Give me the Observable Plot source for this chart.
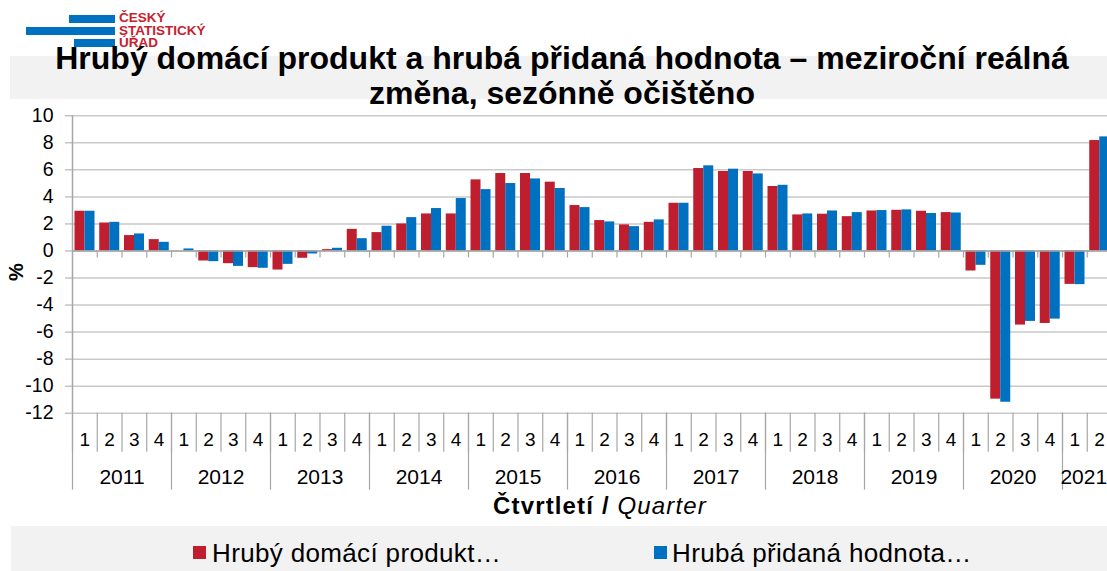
<!DOCTYPE html>
<html><head><meta charset="utf-8">
<script src="https://cdn.jsdelivr.net/npm/d3@7"></script>
<script src="https://cdn.jsdelivr.net/npm/@observablehq/plot@0.6"></script>
<style>
html,body{margin:0;padding:0;background:#fff;overflow:hidden;width:1107px;height:571px;font-family:"Liberation Sans",Arial,sans-serif}
#wrap{position:relative;width:1107px;height:571px}
.abs{position:absolute;white-space:nowrap}
.band{background:#f2f2f2}
.logo-bar{position:absolute;background:#0070c0}
.logo-t{position:absolute;color:#c8202e;font-weight:bold;font-size:13.5px;line-height:12px;left:119px}
.title{left:0;width:1124px;text-align:center;font-weight:bold;font-size:32px;line-height:35px;color:#000}
.leg{font-size:26px;line-height:24px;color:#000;letter-spacing:0.35px}
.sw{position:absolute;width:13px;height:13px}
</style></head><body><div id="wrap">
<div class="abs band" style="left:10px;top:56px;width:1097px;height:43px"></div>
<div class="abs band" style="left:11px;top:526px;width:1096px;height:45px"></div>
<div id="chart" class="abs" style="left:0;top:0"></div>
<div class="logo-bar" style="left:69px;top:15px;width:46px;height:8px"></div>
<div class="logo-bar" style="left:26px;top:27px;width:89px;height:8px"></div>
<div class="logo-bar" style="left:74px;top:39px;width:41px;height:8px"></div>
<div class="logo-t" style="top:12.3px">ČESKÝ</div>
<div class="logo-t" style="top:24.8px">STATISTICKÝ</div>
<div class="logo-t" style="top:36.8px">ÚŘAD</div>
<div class="abs title" style="top:41.4px">Hrubý domácí produkt a hrubá přidaná hodnota – meziroční reálná<br>změna, sezónně očištěno</div>
<div class="abs" style="left:6px;top:262px;width:20px;height:20px;font-weight:bold;font-size:20px;line-height:20px;text-align:center;transform:rotate(-90deg)">%</div>
<div class="abs" style="left:0;width:1200px;text-align:center;top:494px;font-size:24px;line-height:24px;letter-spacing:1.15px"><b>Čtvrtletí /</b> <i>Quarter</i></div>
<div id="legend"></div>
</div>
<script>
const years = ["2011","2012","2013","2014","2015","2016","2017","2018","2019","2020","2021"];
const quartersPerYear = [4,4,4,4,4,4,4,4,4,4,2];
const quarterLabels = ["1","2","3","4"];
const seriesNames = ["Hrubý domácí produkt…", "Hrubá přidaná hodnota…"];
const seriesColors = ["#be1e2d", "#0070c0"];
const gdp = [2.94, 2.07, 1.14, 0.84,
             0.0, -0.74, -0.94, -1.23,
             -1.41, -0.54, 0.1, 1.6,
             1.36, 2.0, 2.74, 2.74,
             5.26, 5.73, 5.73, 5.09,
             3.36, 2.25, 1.93, 2.12,
             3.53, 6.1, 5.88, 5.88,
             4.77, 2.67, 2.72, 2.54,
             2.96, 3.01, 2.94, 2.84,
             -1.48, -10.96, -5.48, -5.36,
             -2.47, 8.17];
const gva = [2.94, 2.12, 1.26, 0.64,
             0.15, -0.79, -1.14, -1.28,
             -0.99, -0.22, 0.2, 0.91,
             1.83, 2.47, 3.14, 3.88,
             4.54, 4.99, 5.33, 4.62,
             3.21, 2.15, 1.80, 2.30,
             3.53, 6.3, 6.05, 5.7,
             4.86, 2.74, 2.96, 2.84,
             2.99, 3.04, 2.77, 2.81,
             -1.06, -11.19, -5.21, -5.04,
             -2.49, 8.44];
const yTicks = d3.range(-12, 11, 2);

// build table
const rows = [];
const yearStarts = [];
let k = 0;
years.forEach((yr, yi) => {
  yearStarts.push({year: yr, start: k, n: quartersPerYear[yi]});
  for (let q = 0; q < quartersPerYear[yi]; q++) {
    rows.push({i: k, year: yr, quarter: quarterLabels[q], gdp: gdp[k], gva: gva[k]});
    k++;
  }
});
const n = rows.length;
const bounds = d3.range(n + 1);
const yearBounds = yearStarts.map(d => d.start);
const fullYears = yearStarts.filter(d => d.n === 4);
const partYears = yearStarts.filter(d => d.n !== 4);
const yearLabel = v => yearStarts.find(d => d.start + d.n / 2 === v).year;
const GRID = "#c9c9c9", AX = "#a6a6a6";

const chart = Plot.plot({
  width: 1107, height: 571,
  marginLeft: 72, marginRight: -4.5, marginTop: 115.3, marginBottom: 158.3,
  x: {domain: [0, n], axis: null},
  y: {domain: [-12, 10], axis: null},
  style: {background: "transparent", fontFamily: "'Liberation Sans', Arial, sans-serif", overflow: "visible", color: "#000"},
  marks: [
    Plot.ruleY(yTicks, {stroke: GRID, strokeWidth: 1.5}),
    Plot.rectY(rows, {x1: "i", x2: d => d.i + 1, y1: 0, y2: "gdp", fill: seriesColors[0], insetLeft: 2.5, insetRight: 12.25}),
    Plot.rectY(rows, {x1: "i", x2: d => d.i + 1, y1: 0, y2: "gva", fill: seriesColors[1], insetLeft: 12.5, insetRight: 2.25}),
    Plot.ruleY([0], {stroke: AX, strokeWidth: 1.5}),
    Plot.ruleX(bounds.slice(1), {y1: 0, y2: -0.52, stroke: AX, strokeWidth: 1.2}),
    Plot.ruleX([0], {stroke: AX, strokeWidth: 1.5}),
    Plot.axisY(yTicks, {anchor: "left", tickSize: 7, tickPadding: 12, fontSize: 19.5, stroke: AX, fill: "#000", label: null, tickFormat: d => String(d)}),
    Plot.axisX(bounds, {anchor: "bottom", tickSize: 39, tickFormat: () => "", stroke: AX, strokeWidth: 1.2, label: null}),
    Plot.axisX(yearBounds, {anchor: "bottom", tickSize: 77, tickFormat: () => "", stroke: AX, strokeWidth: 1.2, label: null}),
    Plot.axisX(rows.map(d => d.i + 0.5), {anchor: "bottom", tickSize: 0, tickPadding: 19, fontSize: 19, fill: "#000", label: null,
      tickFormat: v => rows[Math.floor(v)].quarter}),
    Plot.axisX(fullYears.map(d => d.start + d.n / 2), {anchor: "bottom", tickSize: 0, tickPadding: 55.5, fontSize: 21, fill: "#000", label: null,
      tickFormat: yearLabel}),
    Plot.axisX(partYears.map(d => d.start + d.n / 2), {anchor: "bottom", tickSize: 0, tickPadding: 55.5, fontSize: 21, fill: "#000", label: null,
      dx: -3.5, tickFormat: yearLabel})
  ]
});
document.getElementById("chart").appendChild(chart);

// legend
const legPos = [{sw: 192.5, tx: 212}, {sw: 654, tx: 672}];
const leg = document.getElementById("legend");
seriesNames.forEach((name, i) => {
  const s = document.createElement("div");
  s.className = "sw";
  s.style.left = legPos[i].sw + "px"; s.style.top = "546px"; s.style.background = seriesColors[i];
  leg.appendChild(s);
  const t = document.createElement("div");
  t.className = "abs leg";
  t.style.left = legPos[i].tx + "px"; t.style.top = "540.5px";
  t.textContent = name;
  leg.appendChild(t);
});
</script>
</body></html>
